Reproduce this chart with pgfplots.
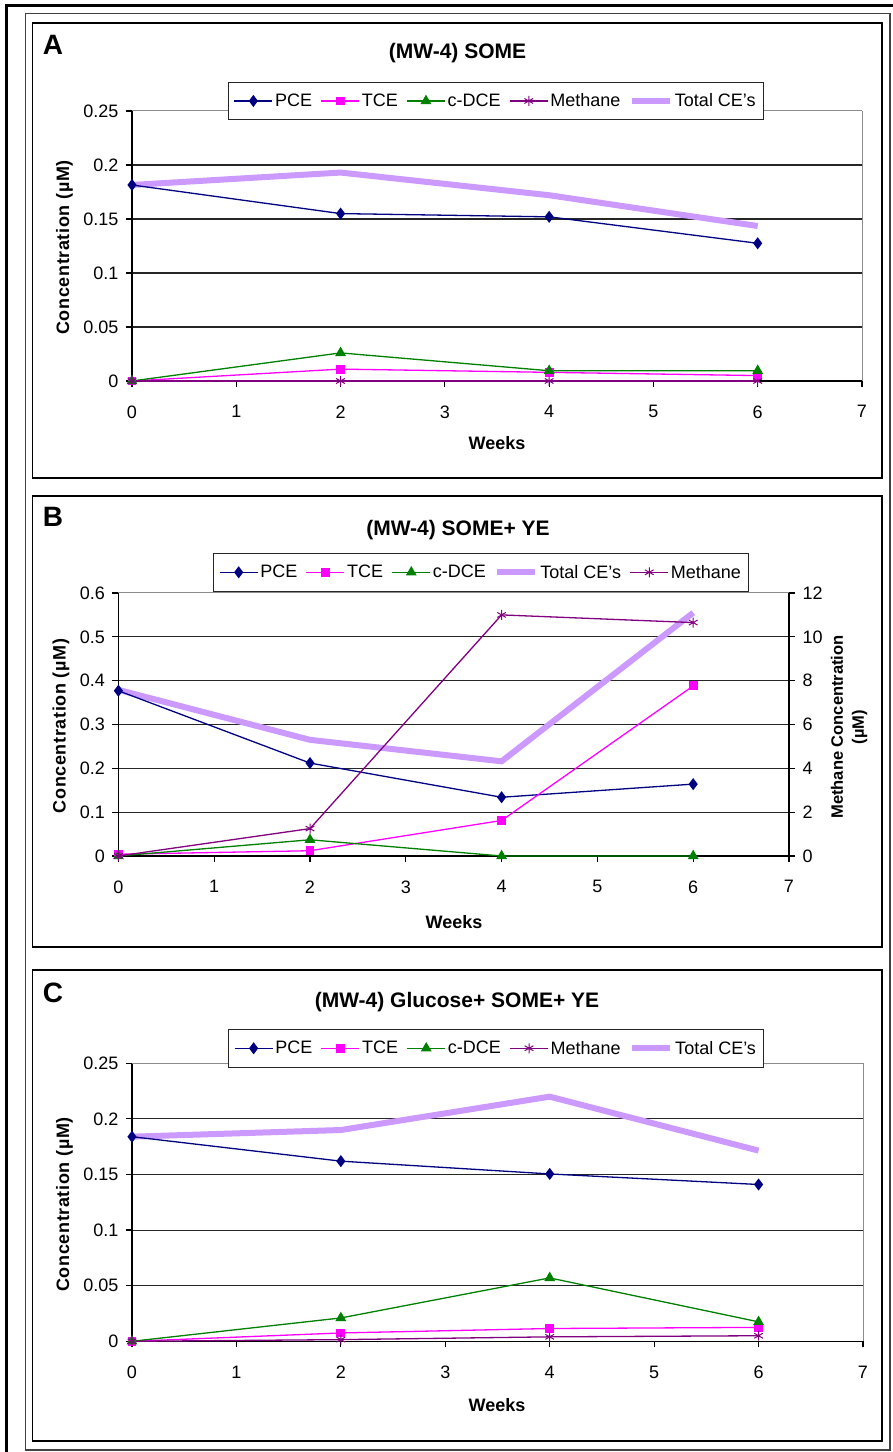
\documentclass[border=0pt]{standalone}
\usepackage{fontspec}
\setmainfont{Liberation Sans}
\newfontfamily\spaced[LetterSpace=3.5]{Liberation Sans}
\usepackage{pgfplots}
\pgfplotsset{compat=1.18}
\definecolor{pceC}{RGB}{0,0,128}
\definecolor{tceC}{RGB}{255,0,255}
\definecolor{dceC}{RGB}{0,128,0}
\definecolor{metC}{RGB}{128,0,128}
\definecolor{totC}{RGB}{204,153,255}
\newcommand\fs[1]{\fontsize{#1}{#1}\selectfont}
\pgfplotsset{
  pce/.style={color=pceC, line width=1.3pt, mark=diamond*, mark size=5pt, mark options={solid}},
  tce/.style={color=tceC, line width=1.3pt, mark=square*, mark size=3.8pt, mark options={solid}},
  dce/.style={color=dceC, line width=1.3pt, mark=triangle*, mark size=5pt, mark options={solid}},
  met/.style={color=metC, line width=1.3pt, mark=asterisk, mark size=5pt, mark options={solid, line width=1pt}},
  tot/.style={color=totC, line width=6pt, mark=none},
  base/.style={
    scale only axis, clip=false,
    xmin=0, xmax=7, xtick={0,1,2,3,4,5,6,7}, xticklabels={0,1,2,3,4,5,6,7},
    tick align=outside, major tick length=6pt,
    axis lines*=left, axis line style={line width=1.3pt, black},
    ymajorgrids, major grid style={black!85, line width=1.1pt},
    tick style={black, line width=1.2pt},
    ticklabel style={font=\fs{18}},
    xticklabel style={yshift=-15pt},
    yticklabel style={xshift=-4pt},
    extra x ticks={7}, extra x tick labels={},
    extra x tick style={grid=major, major grid style={black!45, line width=1pt}},
    extra y tick style={grid=major, major grid style={black!45, line width=1pt}},
    legend columns=5, legend cell align=left,
    legend image code/.code={\draw[mark repeat=2,mark phase=2,##1] plot coordinates {(0pt,0pt) (19pt,0pt) (38pt,0pt)};},
    legend style={draw=black!85, line width=1pt, fill=white, font=\fs{18},
      nodes={inner sep=2pt}, inner xsep=5.5pt, inner ysep=9.5pt,
      /tikz/every even column/.append style={column sep=6.5pt}},
  }
}
\begin{document}
\begin{tikzpicture}[x=1pt,y=1pt]
% frames
\draw[line width=3pt] (6,-20) -- (6,1446) -- (920,1446);
\draw[black!75, line width=1.5pt] (25.6,2) rectangle (890,1438.7);
\draw[black, line width=1.5pt] (32.5,974) rectangle (882,1429);
\draw[black, line width=1.5pt] (32.5,505) rectangle (882,956);
\draw[black, line width=1.5pt] (32.5,11) rectangle (882,482);
% ---------------- Panel A
\begin{axis}[base, at={(132pt,1071pt)}, anchor=south west, width=730pt, height=270pt,
  ymin=0, ymax=0.25, ytick={0,0.05,0.1,0.15,0.2}, yticklabels={0,0.05,0.1,0.15,0.2},
  extra y ticks={0.25}, extra y tick labels={0.25},
  legend style={at={(axis description cs:0.1311,1.1085)}, anchor=north west}]
\addlegendimage{pce}\addlegendentry{PCE}
\addlegendimage{tce}\addlegendentry{TCE}
\addlegendimage{dce}\addlegendentry{c-DCE}
\addlegendimage{met}\addlegendentry{Methane}
\addlegendimage{tot}\addlegendentry{Total CE's}
\addplot[tot, forget plot] coordinates {(0,0.1815)(2,0.193)(4,0.172)(6,0.1435)};
\addplot[pce, forget plot] coordinates {(0,0.1815)(2,0.155)(4,0.152)(6,0.1275)};
\addplot[tce, forget plot] coordinates {(0,0)(2,0.011)(4,0.008)(6,0.005)};
\addplot[dce, forget plot] coordinates {(0,0)(2,0.026)(4,0.0095)(6,0.0095)};
\addplot[met, forget plot] coordinates {(0,0)(2,0)(4,0)(6,0)};
\end{axis}
% ---------------- Panel B
\begin{axis}[base, at={(118.4pt,596pt)}, anchor=south west, width=670.6pt, height=263pt,
  ymin=0, ymax=0.6, ytick={0,0.1,0.2,0.3,0.4,0.5}, yticklabels={0,0.1,0.2,0.3,0.4,0.5},
  extra y ticks={0.6}, extra y tick labels={0.6},
  legend style={at={(axis description cs:0.1411,1.152)}, anchor=north west}]
\addlegendimage{pce}\addlegendentry{PCE}
\addlegendimage{tce}\addlegendentry{TCE}
\addlegendimage{dce}\addlegendentry{c-DCE}
\addlegendimage{tot}\addlegendentry{Total CE's}
\addlegendimage{met}\addlegendentry{Methane}
\addplot[tot, forget plot] coordinates {(0,0.379)(2,0.265)(4,0.216)(6,0.555)};
\addplot[pce, forget plot] coordinates {(0,0.377)(2,0.212)(4,0.134)(6,0.164)};
\addplot[tce, forget plot] coordinates {(0,0.004)(2,0.012)(4,0.081)(6,0.388)};
\addplot[dce, forget plot] coordinates {(0,0)(2,0.037)(4,0)(6,0)};
\end{axis}
\begin{axis}[scale only axis, clip=false, at={(118.4pt,596pt)}, anchor=south west, width=670.6pt, height=263pt,
  xmin=0, xmax=7, ymin=0, ymax=12, axis x line=none, axis y line*=right,
  axis line style={line width=1.3pt, black}, tick align=outside, major tick length=6pt,
  tick style={black, line width=1.2pt},
  ytick={0,2,4,6,8,10,12}, yticklabels={0,2,4,6,8,10,12},
  ticklabel style={font=\fs{18}}, yticklabel style={xshift=4pt}]
\addplot[met] coordinates {(0,0)(2,1.25)(4,11)(6,10.65)};
\end{axis}
% ---------------- Panel C
\begin{axis}[base, at={(132pt,110.7pt)}, anchor=south west, width=731pt, height=278pt,
  ymin=0, ymax=0.25, ytick={0,0.05,0.1,0.15,0.2}, yticklabels={0,0.05,0.1,0.15,0.2},
  extra y ticks={0.25}, extra y tick labels={0.25},
  legend style={at={(axis description cs:0.1313,1.1234)}, anchor=north west}]
\addlegendimage{pce}\addlegendentry{PCE}
\addlegendimage{tce}\addlegendentry{TCE}
\addlegendimage{dce}\addlegendentry{c-DCE}
\addlegendimage{met}\addlegendentry{Methane}
\addlegendimage{tot}\addlegendentry{Total CE's}
\addplot[tot, forget plot] coordinates {(0,0.184)(2,0.19)(4,0.22)(6,0.1715)};
\addplot[pce, forget plot] coordinates {(0,0.184)(2,0.162)(4,0.1505)(6,0.141)};
\addplot[tce, forget plot] coordinates {(0,0)(2,0.0075)(4,0.0115)(6,0.0125)};
\addplot[dce, forget plot] coordinates {(0,0)(2,0.021)(4,0.057)(6,0.0175)};
\addplot[met, forget plot] coordinates {(0,0)(2,0.0015)(4,0.004)(6,0.005)};
\end{axis}
% ---------------- texts
\node[font=\bfseries\fs{28}] at (53,1407) {A};
\node[font=\bfseries\fs{28}] at (53,935) {B};
\node[font=\bfseries\fs{28}] at (53,459) {C};
\node[font=\bfseries\fs{21}] at (457.5,1399) {(MW-4) SOME};
\node[font=\bfseries\fs{21}] at (458,922) {(MW-4) SOME+ YE};
\node[font=\bfseries\fs{21}] at (457,450) {(MW-4) Glucose+ SOME+ YE};
\node[font=\bfseries\fs{18}] at (497,1008.5) {Weeks};
\node[font=\bfseries\fs{18}] at (454,530) {Weeks};
\node[font=\bfseries\fs{18}] at (497,47) {Weeks};
\node[rotate=90, font=\spaced\bfseries\fs{18}] at (64.5,1204.5) {Concentration (µM)};
\node[rotate=90, font=\spaced\bfseries\fs{18}] at (61,726) {Concentration (µM)};
\node[rotate=90, font=\spaced\bfseries\fs{18}] at (64.5,247.5) {Concentration (µM)};
\node[rotate=90, align=center, font=\bfseries\fontsize{16.5}{21}\selectfont] at (849,725) {Methane Concentration\\(µM)};
\pgfresetboundingbox
\useasboundingbox (0,0) rectangle (893,1452);
\end{tikzpicture}
\end{document}
